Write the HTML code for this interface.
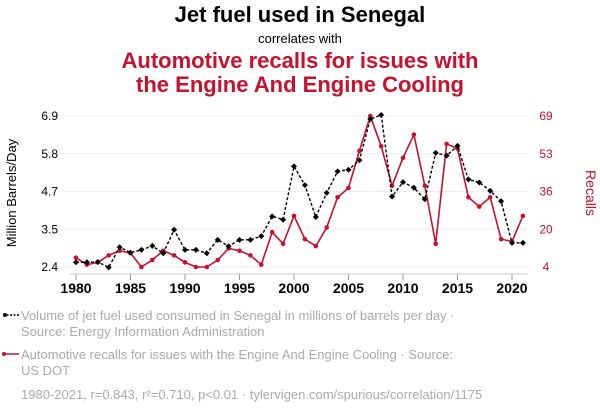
<!DOCTYPE html>
<html><head><meta charset="utf-8"><style>
body{margin:0;background:#fff;width:600px;height:414px;overflow:hidden;font-family:"Liberation Sans",Arial,sans-serif}
</style></head><body>
<svg width="600" height="414" xmlns="http://www.w3.org/2000/svg">
<text x="300" y="22" text-anchor="middle" font-size="22" font-weight="bold" fill="#000">Jet fuel used in Senegal</text>
<text x="300" y="43" text-anchor="middle" font-size="13" fill="#000">correlates with</text>
<text x="300" y="68" text-anchor="middle" font-size="22" font-weight="bold" fill="#c4122f">Automotive recalls for issues with</text>
<text x="300" y="92" text-anchor="middle" font-size="22" font-weight="bold" fill="#c4122f">the Engine And Engine Cooling</text>
<g id="grid"></g>
<g id="axes"></g>
<g id="marks"></g>
<text transform="translate(16,193) rotate(-90)" text-anchor="middle" font-size="13" fill="#000">Million Barrels/Day</text>
<text transform="translate(586,193) rotate(90)" text-anchor="middle" font-size="14" fill="#c4122f">Recalls</text>
<g>
<line x1="3" y1="315" x2="19" y2="315" stroke="#000" stroke-width="1.5" stroke-dasharray="2,1.5"/>
<circle cx="5" cy="315" r="2" fill="#000"/>
<text x="21" y="320" font-size="13" fill="#aaa">Volume of jet fuel used consumed in Senegal in millions of barrels per day ·</text>
<text x="21" y="336" font-size="13" fill="#aaa">Source: Energy Information Administration</text>
</g>
<g>
<line x1="3" y1="354" x2="19" y2="354" stroke="#c4122f" stroke-width="1.5"/>
<circle cx="4" cy="354" r="2" fill="#c4122f"/>
<text x="21" y="359" font-size="13" fill="#aaa">Automotive recalls for issues with the Engine And Engine Cooling · Source:</text>
<text x="21" y="375" font-size="13" fill="#aaa">US DOT</text>
</g>
<text x="21" y="399" font-size="13" fill="#aaa">1980-2021, r=0.843, r²=0.710, p&lt;0.01 · tylervigen.com/spurious/correlation/1175</text>
</svg>
<script>
const years=[1980,1981,1982,1983,1984,1985,1986,1987,1988,1989,1990,1991,1992,1993,1994,1995,1996,1997,1998,1999,2000,2001,2002,2003,2004,2005,2006,2007,2008,2009,2010,2011,2012,2013,2014,2015,2016,2017,2018,2019,2020,2021];
const jetFuel=[2.54,2.54,2.55,2.39,2.99,2.83,2.91,3.03,2.81,3.51,2.91,2.91,2.81,3.21,3.02,3.21,3.21,3.32,3.91,3.81,5.40,4.84,3.89,4.61,5.25,5.30,5.58,6.81,6.93,4.50,4.93,4.76,4.42,5.80,5.72,6.01,5.01,4.92,4.67,4.36,3.12,3.12];
const recalls=[8,5,6,9,11,10,4,7,11,9,6,4,4,7,12,11,9,5,19,14,26,16,13,21,34,38,54,69,56,39,51,61,39,14,57,55,34,30,34,16,15,26];
const xTicks=[1980,1985,1990,1995,2000,2005,2010,2015,2020];
const leftTickLabels=["2.4","3.5","4.7","5.8","6.9"];
const rightTickLabels=["4","20","36","53","69"];
const NS="http://www.w3.org/2000/svg";
const x=v=>76+(v-1980)*10.9;
const yL=v=>116+(6.9-v)*(151/4.5);
const yR=v=>116+(69-v)*(151/65);
function mk(tag,attrs,parent){const e=document.createElementNS(NS,tag);for(const k in attrs)e.setAttribute(k,attrs[k]);parent.appendChild(e);return e;}
const grid=document.getElementById('grid'),axes=document.getElementById('axes'),marks=document.getElementById('marks');
leftTickLabels.forEach((lab,i)=>{
  const v=2.4+i*4.5/4;const yy=yL(v);
  const g=mk('line',{x1:62,x2:528,y1:yy,y2:yy,stroke:'#eee','stroke-width':1},grid);
  
  
  const t=mk('text',{x:58,y:yy+4,'text-anchor':'end','font-size':12,fill:'#000'},axes);t.textContent=lab;
  
  
  const t2=mk('text',{x:546,y:yy+4,'text-anchor':'middle','font-size':12,fill:'#c4122f'},axes);t2.textContent=rightTickLabels[i];
  
  
});
const ax=mk('line',{x1:70,x2:528,y1:274,y2:274,stroke:'#ccc','stroke-width':1},axes);


xTicks.forEach(yr=>{
  const tk=mk('line',{x1:x(yr),x2:x(yr),y1:274,y2:280,stroke:'#999','stroke-width':1},axes);
  
  
  const t=mk('text',{x:x(yr),y:293,'text-anchor':'middle','font-size':14,'font-weight':'bold',fill:'#000'},axes);t.textContent=yr;
  
  
});
const rp=mk('polyline',{points:years.map((yr,i)=>x(yr)+','+yR(recalls[i])).join(' '),fill:'none',stroke:'#c4122f','stroke-width':1.6},marks);


years.forEach((yr,i)=>{const c=mk('circle',{cx:x(yr),cy:yR(recalls[i]),r:2.3,fill:'#c4122f'},marks);
  
  });
const jp=mk('polyline',{points:years.map((yr,i)=>x(yr)+','+yL(jetFuel[i])).join(' '),fill:'none',stroke:'#000','stroke-width':1.4,'stroke-dasharray':'3,2'},marks);


years.forEach((yr,i)=>{const cx=x(yr),cy=yL(jetFuel[i]);
  const d=mk('polygon',{points:`${cx},${cy-3} ${cx+3},${cy} ${cx},${cy+3} ${cx-3},${cy}`,fill:'#000'},marks);
  
  });
</script>
</body></html>
